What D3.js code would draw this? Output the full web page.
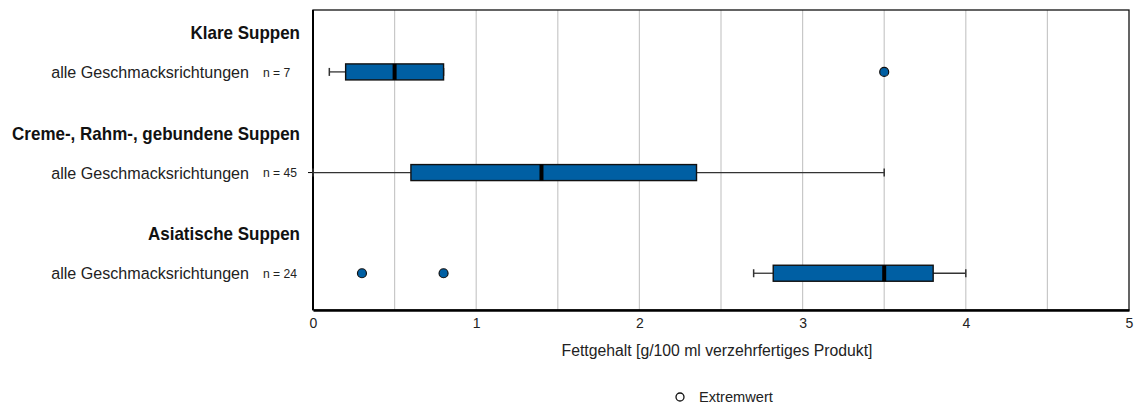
<!DOCTYPE html>
<html>
<head>
<meta charset="utf-8">
<script src="https://cdn.jsdelivr.net/npm/d3@7"></script>
<style>
  html, body { margin: 0; padding: 0; background: #fff; }
  svg { display: block; font-family: "Liberation Sans", Arial, sans-serif; }
</style>
</head>
<body>
<svg id="chart" width="1135" height="407"></svg>
<script>
// Soup groups and their box-plot statistics (fat content, g/100 ml)
const groups = ["Klare Suppen", "Creme-, Rahm-, gebundene Suppen", "Asiatische Suppen"];
const subLabels = ["alle Geschmacksrichtungen", "alle Geschmacksrichtungen", "alle Geschmacksrichtungen"];
const nCounts = [7, 45, 24];
const whiskerLow = [0.1, 0.0, 2.7];
const q1 = [0.2, 0.6, 2.82];
const median = [0.5, 1.4, 3.5];
const q3 = [0.8, 2.35, 3.8];
const whiskerHigh = [0.8, 3.5, 4.0];
const outliers = [[3.5], [], [0.3, 0.8]];
const xTicks = [0, 1, 2, 3, 4, 5];
const gridValues = [0.5, 1, 1.5, 2, 2.5, 3, 3.5, 4, 4.5];
const xTitle = "Fettgehalt [g/100 ml verzehrfertiges Produkt]";
const legendLabel = "Extremwert";

const boxFill = "#005FA3";
const svg = d3.select("#chart");

const plot = { left: 313, right: 1129, top: 10, bottom: 310 };
const x = d3.scaleLinear().domain([0, 5]).range([plot.left, plot.right]);

// each group occupies a band: heading line then data row
const rowScale = d3.scaleBand().domain(d3.range(groups.length))
  .range([plot.top, plot.bottom + 2]);
const rowY = i => rowScale(i) + rowScale.bandwidth() * 0.615;
const headY = i => rowScale(i) + rowScale.bandwidth() * 0.225;

// condensed text: render at a given size, then squeeze horizontally to a target width
function squeeze(sel, anchorX, y, targetWidth) {
  const w = d3.max(sel.nodes(), n => n.getComputedTextLength());
  const s = Math.min(1, targetWidth / w);
  sel.attr("x", 0).attr("transform", (d, i) => `translate(${anchorX},${y(d, i)}) scale(${s},1)`);
}

// vertical gridlines
svg.append("g").selectAll("line").data(gridValues).join("line")
  .attr("x1", d => x(d)).attr("x2", d => x(d))
  .attr("y1", plot.top).attr("y2", plot.bottom)
  .attr("stroke", "#c8c8c8").attr("stroke-width", 1.2);

// frame
svg.append("rect")
  .attr("x", plot.left).attr("y", plot.top)
  .attr("width", plot.right - plot.left).attr("height", plot.bottom - plot.top)
  .attr("fill", "none").attr("stroke", "#111").attr("stroke-width", 1.3);

// left axis (thicker)
svg.append("line")
  .attr("x1", plot.left).attr("x2", plot.left)
  .attr("y1", plot.top).attr("y2", plot.bottom)
  .attr("stroke", "#000").attr("stroke-width", 2);

// bottom axis
const xAxis = d3.axisBottom(x).tickValues(xTicks).tickSize(0).tickPadding(8)
  .tickFormat(d3.format("d"));
const gx = svg.append("g").attr("transform", `translate(0,${plot.bottom})`).call(xAxis);
gx.select(".domain").attr("stroke", "#000").attr("stroke-width", 2.5);
gx.selectAll("text").attr("font-size", 14).attr("fill", "#222")
  .attr("font-family", "'Liberation Sans', Arial, sans-serif");

// left axis tick at the middle row
svg.append("line")
  .attr("x1", plot.left - 5).attr("x2", plot.left)
  .attr("y1", rowY(1)).attr("y2", rowY(1))
  .attr("stroke", "#000").attr("stroke-width", 1);

// x axis title
const title = svg.append("text")
  .attr("text-anchor", "middle").attr("font-size", 16).attr("fill", "#222")
  .text(xTitle);
squeeze(title, (plot.left + plot.right) / 2 - 4, () => 356, 311);

// group headings and row labels
const labels = svg.append("g");
const heads = labels.selectAll("text.head").data(groups).join("text").attr("class", "head")
  .attr("dy", "0.35em")
  .attr("text-anchor", "end").attr("font-weight", "bold").attr("font-size", 18)
  .attr("fill", "#111")
  .text(d => d);
squeeze(heads, 300, (d, i) => headY(i), 288);

const subs = labels.selectAll("text.sub").data(subLabels).join("text").attr("class", "sub")
  .attr("dy", "0.35em")
  .attr("text-anchor", "end").attr("font-size", 17).attr("fill", "#222")
  .text(d => d);
squeeze(subs, 249, (d, i) => rowY(i), 198);

const ns = labels.selectAll("text.n").data(nCounts).join("text").attr("class", "n")
  .attr("dy", "0.35em")
  .attr("text-anchor", "start").attr("font-size", 13.5).attr("fill", "#222")
  .text(d => `n = ${d}`);
squeeze(ns, 263, (d, i) => rowY(i), 34);

// box plots
const boxH = 16, capH = 8;
const boxes = svg.append("g").selectAll("g").data(groups).join("g");

// whiskers
boxes.append("line")
  .attr("x1", (d, i) => x(whiskerLow[i])).attr("x2", (d, i) => x(q1[i]))
  .attr("y1", (d, i) => rowY(i)).attr("y2", (d, i) => rowY(i))
  .attr("stroke", "#333").attr("stroke-width", 1.3);
boxes.append("line")
  .attr("x1", (d, i) => x(q3[i])).attr("x2", (d, i) => x(whiskerHigh[i]))
  .attr("y1", (d, i) => rowY(i)).attr("y2", (d, i) => rowY(i))
  .attr("stroke", "#333").attr("stroke-width", 1.3);
// caps
boxes.append("line")
  .attr("x1", (d, i) => x(whiskerLow[i])).attr("x2", (d, i) => x(whiskerLow[i]))
  .attr("y1", (d, i) => rowY(i) - capH / 2).attr("y2", (d, i) => rowY(i) + capH / 2)
  .attr("stroke", "#333").attr("stroke-width", 1.5);
boxes.append("line")
  .attr("x1", (d, i) => x(whiskerHigh[i])).attr("x2", (d, i) => x(whiskerHigh[i]))
  .attr("y1", (d, i) => rowY(i) - capH / 2).attr("y2", (d, i) => rowY(i) + capH / 2)
  .attr("stroke", "#333").attr("stroke-width", 1.5);
// box
boxes.append("rect")
  .attr("x", (d, i) => x(q1[i])).attr("width", (d, i) => x(q3[i]) - x(q1[i]))
  .attr("y", (d, i) => rowY(i) - boxH / 2).attr("height", boxH)
  .attr("fill", boxFill).attr("stroke", "#111").attr("stroke-width", 1.4);
// median
boxes.append("line")
  .attr("x1", (d, i) => x(median[i])).attr("x2", (d, i) => x(median[i]))
  .attr("y1", (d, i) => rowY(i) - boxH / 2).attr("y2", (d, i) => rowY(i) + boxH / 2)
  .attr("stroke", "#000").attr("stroke-width", 4);

// outliers
const outPts = outliers.flatMap((arr, i) => arr.map(v => ({ v, i })));
svg.append("g").selectAll("circle").data(outPts).join("circle")
  .attr("cx", d => x(d.v)).attr("cy", d => rowY(d.i)).attr("r", 4.5)
  .attr("fill", boxFill).attr("stroke", "#111").attr("stroke-width", 1.2);

// legend
const lg = svg.append("g").attr("transform", "translate(680,397)");
lg.append("circle").attr("r", 4).attr("fill", "#fff").attr("stroke", "#111").attr("stroke-width", 1.3);
const lgText = lg.append("text").attr("dy", "0.35em").attr("font-size", 15).attr("fill", "#222")
  .text(legendLabel);
squeeze(lgText, 19, () => 0, 74);
</script>
</body>
</html>
